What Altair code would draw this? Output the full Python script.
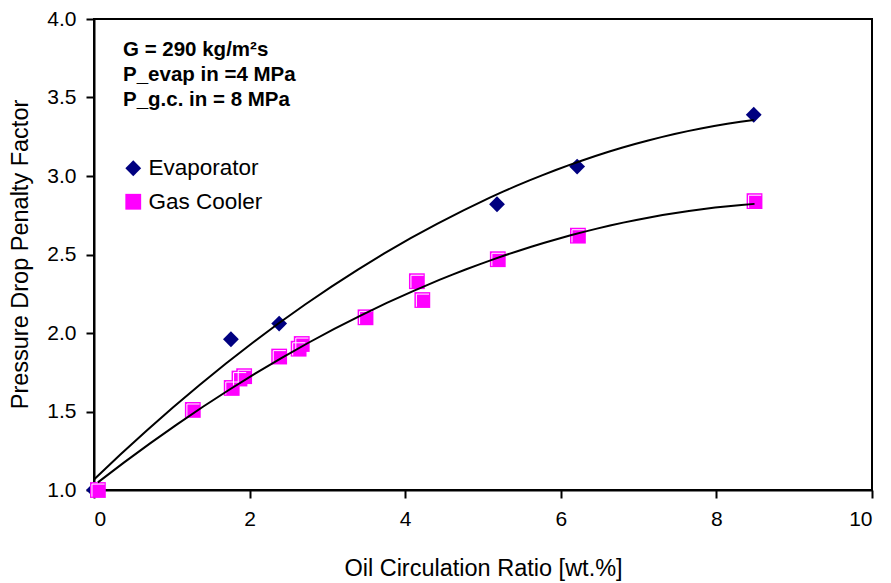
import altair as alt
import pandas as pd

# ---- data ----
series_names = ["Evaporator", "Gas Cooler"]
series_colors = ["#000080", "#FF00FF"]

evap_x = [0.0, 1.76, 2.38, 5.18, 6.21, 8.48]
evap_y = [1.00, 1.96, 2.06, 2.82, 3.06, 3.39]

gc_x = [0.05, 1.27, 1.77, 1.87, 1.93, 2.38, 2.63, 2.67, 3.49, 4.15, 4.22, 5.19, 6.22, 8.49]
gc_y = [1.00, 1.51, 1.65, 1.71, 1.725, 1.85, 1.90, 1.93, 2.10, 2.33, 2.21, 2.47, 2.62, 2.84]

x_ticks = [0, 2, 4, 6, 8, 10]
y_ticks = [1.0, 1.5, 2.0, 2.5, 3.0, 3.5, 4.0]

annotation_lines = ["G = 290 kg/m\u00b2s", "P_evap in =4 MPa", "P_g.c. in = 8 MPa"]

x_title = "Oil Circulation Ratio [wt.%]"
y_title = "Pressure Drop Penalty Factor"

df = pd.DataFrame({
    "x": evap_x + gc_x,
    "y": evap_y + gc_y,
    "series": [series_names[0]] * len(evap_x) + [series_names[1]] * len(gc_x),
})

FONT = "Liberation Sans"

xs = alt.Scale(domain=[0, 10], nice=False, zero=False)
ys = alt.Scale(domain=[1, 4], nice=False, zero=False)

x_enc = alt.X("x:Q", scale=xs, axis=alt.Axis(
    values=x_ticks, format="d", title=x_title, labelPadding=10,
    titleX=389, titleY=78, titleBaseline="middle", titleAlign="center"))
y_enc = alt.Y("y:Q", scale=ys, axis=alt.Axis(
    values=y_ticks, format=".1f", title=y_title, labelPadding=10,
    titleX=-74, titleY=235, titleBaseline="middle", titleAlign="center", titleAngle=-90))

legend_def = alt.Legend(
    title=None, orient="none", legendX=28, legendY=138, padding=0,
    labelFont=FONT, labelFontSize=22.5, labelColor="black", labelOffset=4,
    symbolSize=250, symbolStrokeWidth=0, rowPadding=10.5, symbolOpacity=1,
)

base = alt.Chart(df)

points = base.mark_point(filled=True, size=250, opacity=1).encode(
    x=x_enc,
    y=y_enc,
    color=alt.Color("series:N", scale=alt.Scale(domain=series_names, range=series_colors), legend=legend_def),
    shape=alt.Shape("series:N", scale=alt.Scale(domain=series_names, range=["diamond", "square"]), legend=legend_def),
)

highlight = base.transform_filter(alt.datum.series == series_names[1]).mark_point(
    shape="M-0.75,0.85L-0.75,-0.75L0.85,-0.75", filled=False, stroke="white",
    strokeWidth=1, size=250, opacity=1,
).encode(x=x_enc, y=y_enc)

trend = base.transform_regression(
    "x", "y", groupby=["series"], method="poly", order=2
).mark_line(color="black", strokeWidth=2).encode(
    x=x_enc, y=y_enc, detail="series:N"
)

notes = alt.Chart(pd.DataFrame({"k": [0]})).mark_text(
    align="left", baseline="alphabetic", font=FONT, fontSize=20.5,
    fontWeight="bold", lineHeight=25, color="black",
).encode(x=alt.value(29), y=alt.value(37), text=alt.value(annotation_lines))

chart = alt.layer(points, highlight, trend, notes).properties(
    width=778, height=471,
    padding={"left": 86, "top": 11, "right": 11, "bottom": 93},
    autosize=alt.AutoSizeParams(type="none"),
).configure_view(
    stroke="black", strokeWidth=2
).configure_axis(
    grid=False, domainColor="black", domainWidth=2,
    tickColor="black", tickWidth=2, tickSize=8,
    labelFont=FONT, labelFontSize=21, labelColor="black",
    titleFont=FONT, titleFontSize=23.5, titleFontWeight="normal", titleColor="black",
)

chart.save("out.html", embed_options={"renderer": "svg", "actions": False})
